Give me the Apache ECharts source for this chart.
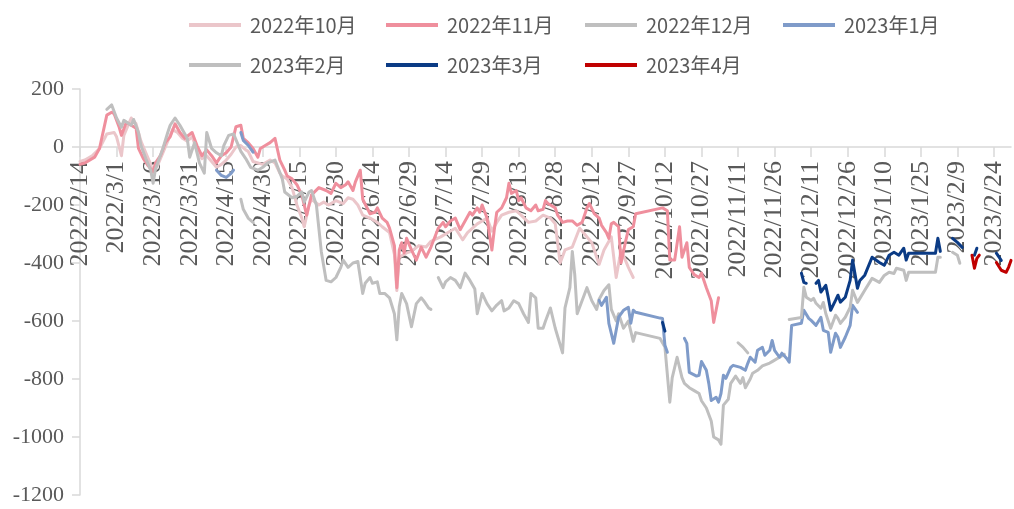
<!DOCTYPE html>
<html>
<head>
<meta charset="utf-8">
<script src="https://cdn.jsdelivr.net/npm/echarts@6/dist/echarts.min.js"></script>
<style>
  html, body { margin: 0; padding: 0; background: #fff; }
  #chart { width: 1014px; height: 509px; }
</style>
</head>
<body>
<div id="chart"></div>
<script>
// 日历日 x 轴: 2022/2/14 ~ 2023/3/3, 每 15 天一个标签
const START = Date.UTC(2022, 1, 14);
const DAYS = 383;
const cats = [];
for (let i = 0; i < DAYS; i++) {
  const d = new Date(START + i * 86400000);
  cats.push(d.getUTCFullYear() + '/' + (d.getUTCMonth() + 1) + '/' + d.getUTCDate());
}

const yTicks = { min: -1200, max: 200, step: 200 };

// null = 断线
const oct22 = [
  ['2022/2/14', -50], ['2022/2/16', -45], ['2022/2/19', -30], ['2022/2/22', -5], ['2022/2/25', 45],
  ['2022/2/28', 50], ['2022/3/1', 35], ['2022/3/3', -30], ['2022/3/4', 40], ['2022/3/7', 100],
  ['2022/3/9', 80], ['2022/3/11', 20], ['2022/3/13', -20], ['2022/3/15', -60], ['2022/3/16', -90],
  ['2022/3/18', -60], ['2022/3/20', -20], ['2022/3/22', 20], ['2022/3/24', 60], ['2022/3/26', 50],
  ['2022/3/28', 30], ['2022/3/30', 20], ['2022/4/1', 35], ['2022/4/3', -10], ['2022/4/5', -40],
  ['2022/4/7', -30], ['2022/4/9', -50], ['2022/4/11', -70], ['2022/4/13', -60], ['2022/4/15', -45],
  ['2022/4/17', -25], ['2022/4/19', 0], ['2022/4/21', 5], ['2022/4/23', -10], ['2022/4/24', -15],
  ['2022/4/26', -50], ['2022/4/30', -60], ['2022/5/3', -45], ['2022/5/5', -55], ['2022/5/7', -90],
  ['2022/5/8', -100], ['2022/5/10', -110], ['2022/5/12', -140], ['2022/5/14', -200], ['2022/5/16', -245],
  ['2022/5/17', -275], ['2022/5/19', -200], ['2022/5/20', -180], ['2022/5/23', -200], ['2022/5/25', -190],
  ['2022/5/27', -200], ['2022/5/30', -185], ['2022/6/2', -195], ['2022/6/4', -175], ['2022/6/6', -180],
  ['2022/6/8', -200], ['2022/6/10', -235], ['2022/6/13', -245], ['2022/6/16', -260], ['2022/6/18', -275],
  ['2022/6/21', -295], ['2022/6/23', -370], ['2022/6/24', -495], ['2022/6/25', -380], ['2022/6/28', -365],
  ['2022/6/30', -360], ['2022/7/3', -340], ['2022/7/6', -345], ['2022/7/8', -325], ['2022/7/12', -310],
  ['2022/7/15', -295], ['2022/7/18', -280], ['2022/7/21', -320], ['2022/7/23', -295], ['2022/7/27', -265],
  ['2022/7/29', -255], ['2022/7/31', -245], ['2022/8/2', -290], ['2022/8/4', -260], ['2022/8/6', -235],
  ['2022/8/9', -225], ['2022/8/12', -220], ['2022/8/14', -235], ['2022/8/17', -260], ['2022/8/20', -255],
  ['2022/8/23', -235], ['2022/8/26', -245], ['2022/8/28', -265], ['2022/8/30', -400], ['2022/9/1', -355],
  ['2022/9/4', -345], ['2022/9/7', -280], ['2022/9/9', -300], ['2022/9/12', -330], ['2022/9/15', -405],
  ['2022/9/17', -355], ['2022/9/20', -310], ['2022/9/22', -450], ['2022/9/24', -355], ['2022/9/27', -415],
  ['2022/9/29', -450]
];

const nov22 = [
  ['2022/2/14', -60], ['2022/2/16', -55], ['2022/2/20', -35], ['2022/2/22', -5], ['2022/2/25', 110],
  ['2022/2/27', 120], ['2022/2/28', 115], ['2022/3/2', 70], ['2022/3/3', 40], ['2022/3/5', 85],
  ['2022/3/7', 75], ['2022/3/9', 65], ['2022/3/10', -5], ['2022/3/12', -40], ['2022/3/14', -65],
  ['2022/3/16', -85], ['2022/3/17', -55], ['2022/3/19', -30], ['2022/3/21', 15], ['2022/3/23', 35],
  ['2022/3/25', 80], ['2022/3/27', 50], ['2022/3/29', 30], ['2022/4/1', 50], ['2022/4/3', 5],
  ['2022/4/5', -30], ['2022/4/7', -10], ['2022/4/9', -30], ['2022/4/11', -55], ['2022/4/13', -30],
  ['2022/4/15', -20], ['2022/4/17', 0], ['2022/4/19', 70], ['2022/4/21', 75], ['2022/4/22', 30],
  ['2022/4/24', 15], ['2022/4/26', -5], ['2022/4/28', -35], ['2022/4/29', -5], ['2022/5/1', 5],
  ['2022/5/3', 15], ['2022/5/5', 30], ['2022/5/7', -45], ['2022/5/9', -80], ['2022/5/10', -100],
  ['2022/5/12', -110], ['2022/5/14', -130], ['2022/5/16', -165], ['2022/5/18', -235], ['2022/5/19', -200],
  ['2022/5/20', -165], ['2022/5/23', -140], ['2022/5/26', -150], ['2022/5/28', -160], ['2022/5/30', -125],
  ['2022/6/1', -140], ['2022/6/3', -130], ['2022/6/4', -120], ['2022/6/6', -150], ['2022/6/7', -120],
  ['2022/6/9', -80], ['2022/6/10', -180], ['2022/6/13', -230], ['2022/6/15', -225], ['2022/6/16', -210],
  ['2022/6/18', -245], ['2022/6/20', -260], ['2022/6/21', -280], ['2022/6/23', -340], ['2022/6/24', -485],
  ['2022/6/25', -355], ['2022/6/26', -330], ['2022/6/27', -365], ['2022/6/28', -315], ['2022/6/30', -355],
  ['2022/7/2', -390], ['2022/7/4', -345], ['2022/7/6', -380], ['2022/7/8', -345], ['2022/7/11', -280],
  ['2022/7/13', -260], ['2022/7/14', -275], ['2022/7/16', -255], ['2022/7/18', -245], ['2022/7/20', -285],
  ['2022/7/22', -255], ['2022/7/24', -225], ['2022/7/25', -235], ['2022/7/27', -210], ['2022/7/28', -225],
  ['2022/7/29', -200], ['2022/7/31', -245], ['2022/8/2', -355], ['2022/8/3', -285], ['2022/8/4', -225],
  ['2022/8/6', -210], ['2022/8/8', -175], ['2022/8/9', -125], ['2022/8/10', -160], ['2022/8/12', -150],
  ['2022/8/13', -185], ['2022/8/14', -175], ['2022/8/16', -210], ['2022/8/18', -220], ['2022/8/20', -200],
  ['2022/8/21', -220], ['2022/8/23', -215], ['2022/8/24', -185], ['2022/8/25', -195], ['2022/8/28', -210],
  ['2022/8/29', -235], ['2022/8/31', -260], ['2022/9/2', -255], ['2022/9/4', -255], ['2022/9/6', -270],
  ['2022/9/8', -260], ['2022/9/10', -210], ['2022/9/11', -195], ['2022/9/13', -230], ['2022/9/15', -245],
  ['2022/9/16', -270], ['2022/9/18', -295], ['2022/9/19', -315], ['2022/9/20', -265], ['2022/9/21', -260],
  ['2022/9/23', -275], ['2022/9/24', -400], ['2022/9/26', -320], ['2022/9/27', -285], ['2022/9/29', -275],
  ['2022/9/30', -230], ['2022/10/11', -210], ['2022/10/13', -220], ['2022/10/14', -390], ['2022/10/16', -390],
  ['2022/10/18', -275], ['2022/10/19', -380], ['2022/10/21', -330], ['2022/10/22', -415], ['2022/10/24', -440],
  ['2022/10/26', -450], ['2022/10/27', -435], ['2022/10/29', -485], ['2022/10/31', -530], ['2022/11/1', -605],
  ['2022/11/3', -520]
];

const dec22 = [
  ['2022/2/25', 130], ['2022/2/27', 145], ['2022/3/1', 100], ['2022/3/3', 68], ['2022/3/4', 92],
  ['2022/3/7', 75], ['2022/3/8', 95], ['2022/3/10', 50], ['2022/3/11', 5], ['2022/3/13', -40],
  ['2022/3/15', -80], ['2022/3/16', -125], ['2022/3/17', -75], ['2022/3/20', -5], ['2022/3/22', 50],
  ['2022/3/23', 75], ['2022/3/25', 100], ['2022/3/27', 75], ['2022/3/30', 30], ['2022/3/31', -35],
  ['2022/4/2', 15], ['2022/4/4', -55], ['2022/4/6', -90], ['2022/4/7', 50], ['2022/4/9', -5],
  ['2022/4/11', -20], ['2022/4/13', -30], ['2022/4/14', 5], ['2022/4/16', 40], ['2022/4/18', 45],
  ['2022/4/21', -15], ['2022/4/23', -40], ['2022/4/25', -70], ['2022/4/28', -80], ['2022/4/30', -70],
  ['2022/5/2', -55], ['2022/5/5', -45], ['2022/5/8', -110], ['2022/5/9', -155], ['2022/5/12', -175],
  ['2022/5/14', -170], ['2022/5/16', -155], ['2022/5/17', -190], ['2022/5/19', -155], ['2022/5/20', -150],
  ['2022/5/22', -200], ['2022/5/24', -360], ['2022/5/26', -460], ['2022/5/28', -465], ['2022/5/30', -450],
  ['2022/6/1', -415], ['2022/6/2', -390], ['2022/6/4', -415], ['2022/6/6', -400], ['2022/6/8', -395],
  ['2022/6/10', -505], ['2022/6/11', -470], ['2022/6/13', -450], ['2022/6/14', -470], ['2022/6/16', -465],
  ['2022/6/17', -505], ['2022/6/19', -505], ['2022/6/21', -520], ['2022/6/23', -575], ['2022/6/24', -665],
  ['2022/6/25', -550], ['2022/6/26', -505], ['2022/6/28', -540], ['2022/6/30', -620], ['2022/7/2', -540],
  ['2022/7/4', -520], ['2022/7/5', -530], ['2022/7/7', -555], ['2022/7/8', -560], null,
  ['2022/7/11', -450], ['2022/7/13', -485], ['2022/7/14', -465], ['2022/7/16', -450], ['2022/7/18', -460],
  ['2022/7/20', -485], ['2022/7/22', -435], ['2022/7/24', -460], ['2022/7/26', -490], ['2022/7/27', -575],
  ['2022/7/29', -505], ['2022/7/31', -540], ['2022/8/2', -565], ['2022/8/4', -545], ['2022/8/6', -530],
  ['2022/8/7', -565], ['2022/8/9', -555], ['2022/8/11', -530], ['2022/8/13', -540], ['2022/8/15', -575],
  ['2022/8/17', -605], ['2022/8/18', -505], ['2022/8/20', -520], ['2022/8/21', -625], ['2022/8/23', -625],
  ['2022/8/24', -600], ['2022/8/26', -555], ['2022/8/28', -625], ['2022/8/31', -710], ['2022/9/1', -555],
  ['2022/9/3', -485], ['2022/9/4', -360], ['2022/9/5', -440], ['2022/9/6', -575], ['2022/9/8', -530],
  ['2022/9/10', -485], ['2022/9/12', -530], ['2022/9/14', -560], ['2022/9/15', -525], ['2022/9/17', -495],
  ['2022/9/19', -475], ['2022/9/20', -560], ['2022/9/22', -600], ['2022/9/23', -575], ['2022/9/25', -625],
  ['2022/9/27', -600], ['2022/9/29', -670], ['2022/9/30', -640], ['2022/10/10', -660], ['2022/10/12', -690],
  ['2022/10/14', -880], ['2022/10/15', -795], ['2022/10/17', -725], ['2022/10/19', -795], ['2022/10/20', -815],
  ['2022/10/22', -830], ['2022/10/24', -840], ['2022/10/26', -850], ['2022/10/27', -875], ['2022/10/29', -900],
  ['2022/10/31', -945], ['2022/11/1', -1000], ['2022/11/3', -1010], ['2022/11/4', -1025], ['2022/11/5', -890],
  ['2022/11/7', -870], ['2022/11/8', -815], ['2022/11/10', -790], ['2022/11/12', -815], ['2022/11/13', -795],
  ['2022/11/14', -830], ['2022/11/16', -800], ['2022/11/17', -780], ['2022/11/19', -770], ['2022/11/21', -755],
  ['2022/11/24', -745], ['2022/11/25', -740], ['2022/11/28', -725], ['2022/11/30', -715]
];

const jan23 = [
  ['2022/4/11', -80], ['2022/4/13', -98], ['2022/4/15', -105], ['2022/4/17', -91], ['2022/4/18', -80], null,
  ['2022/4/21', 50], ['2022/4/22', 23], ['2022/4/24', 6], ['2022/4/26', -18], null,
  ['2022/9/15', -529], ['2022/9/16', -546], ['2022/9/18', -518], ['2022/9/19', -608], ['2022/9/21', -677],
  ['2022/9/23', -587], ['2022/9/25', -563], ['2022/9/27', -553], ['2022/9/28', -608], ['2022/9/29', -563],
  ['2022/9/30', -570], ['2022/10/10', -590], ['2022/10/11', -591], ['2022/10/12', -684], ['2022/10/13', -708], null,
  ['2022/10/20', -660], ['2022/10/21', -677], ['2022/10/22', -777], ['2022/10/25', -790], ['2022/10/26', -787],
  ['2022/10/27', -740], ['2022/10/29', -770], ['2022/10/30', -815], ['2022/10/31', -874], ['2022/11/2', -863],
  ['2022/11/3', -880], ['2022/11/4', -850], ['2022/11/5', -787], ['2022/11/6', -798], ['2022/11/8', -760],
  ['2022/11/9', -753], ['2022/11/12', -760], ['2022/11/14', -770], ['2022/11/15', -746], ['2022/11/16', -725],
  ['2022/11/18', -742], ['2022/11/19', -701], ['2022/11/21', -691], ['2022/11/22', -718], ['2022/11/24', -701],
  ['2022/11/25', -667], ['2022/11/26', -701], ['2022/11/28', -725], ['2022/11/29', -711], ['2022/12/1', -729],
  ['2022/12/2', -742], ['2022/12/3', -615], ['2022/12/7', -608], ['2022/12/8', -563], ['2022/12/10', -591],
  ['2022/12/11', -598], ['2022/12/13', -615], ['2022/12/15', -587], ['2022/12/16', -632], ['2022/12/18', -639],
  ['2022/12/19', -708], ['2022/12/21', -642], ['2022/12/22', -656], ['2022/12/23', -691], ['2022/12/25', -656],
  ['2022/12/27', -615], ['2022/12/28', -546], ['2022/12/30', -570]
];

const feb23 = [
  ['2022/4/21', -180], ['2022/4/22', -215], ['2022/4/24', -245], ['2022/4/26', -260], null,
  ['2022/11/11', -675], ['2022/11/13', -690], ['2022/11/15', -710], null,
  ['2022/12/2', -595], ['2022/12/7', -588], ['2022/12/8', -484], ['2022/12/9', -518], ['2022/12/11', -529],
  ['2022/12/12', -522], ['2022/12/13', -539], ['2022/12/15', -556], ['2022/12/16', -536], ['2022/12/17', -574],
  ['2022/12/19', -625], ['2022/12/21', -580], ['2022/12/22', -591], ['2022/12/23', -608], ['2022/12/25', -587],
  ['2022/12/27', -553], ['2022/12/28', -494], ['2022/12/30', -536], ['2022/12/31', -522], ['2023/1/2', -494],
  ['2023/1/5', -453], ['2023/1/8', -467], ['2023/1/10', -443], ['2023/1/12', -432], ['2023/1/14', -436],
  ['2023/1/15', -418], ['2023/1/18', -425], ['2023/1/19', -460], ['2023/1/20', -432], ['2023/1/31', -432],
  ['2023/2/1', -380], ['2023/2/2', -380], null,
  ['2023/2/7', -363], ['2023/2/9', -373], ['2023/2/10', -401]
];

const mar23 = [
  ['2022/10/11', -605], ['2022/10/12', -635], null,
  ['2022/12/7', -435], ['2022/12/8', -467], ['2022/12/9', -470], null,
  ['2022/12/13', -470], ['2022/12/14', -460], ['2022/12/15', -500], ['2022/12/17', -477], ['2022/12/18', -518],
  ['2022/12/19', -563], ['2022/12/21', -529], ['2022/12/22', -511], ['2022/12/23', -535], ['2022/12/25', -518],
  ['2022/12/27', -460], ['2022/12/28', -390], ['2022/12/30', -487], ['2022/12/31', -460], ['2023/1/2', -442],
  ['2023/1/5', -380], ['2023/1/8', -398], ['2023/1/10', -408], ['2023/1/12', -373], ['2023/1/14', -363],
  ['2023/1/16', -373], ['2023/1/18', -349], ['2023/1/19', -390], ['2023/1/20', -366], ['2023/1/31', -366],
  ['2023/2/1', -315], ['2023/2/2', -360], null,
  ['2023/2/7', -315], ['2023/2/9', -329], ['2023/2/11', -346], null,
  ['2023/2/16', -373], ['2023/2/17', -349], null,
  ['2023/2/25', -366], ['2023/2/27', -391]
];

const apr23 = [
  ['2023/2/15', -373], ['2023/2/16', -418], ['2023/2/17', -384], ['2023/2/18', -373], null,
  ['2023/2/25', -398], ['2023/2/27', -425], ['2023/3/1', -432], ['2023/3/2', -415], ['2023/3/3', -391]
];

const INK = '#595959';
const AXIS = '#d9d9d9';

function line(name, color, data) {
  return {
    name, type: 'line', color,
    data: data.map((p) => p || '-'),
    symbol: 'none', connectNulls: false, silent: true,
    lineStyle: { width: 3, color, cap: 'round', join: 'round' },
  };
}

// 图例按 Excel 的网格排: 每列一个 legend
function legendCol(left, names) {
  return {
    left, top: 10, orient: 'vertical', itemGap: 20,
    itemWidth: 52, itemHeight: 4, icon: 'rect',
    data: names, selectedMode: false,
    textStyle: { fontFamily: 'Noto Sans CJK SC', fontSize: 20, lineHeight: 20, color: INK, padding: [0, 0, 0, 4] },
  };
}

const GRID = { left: 80, right: 3, top: 89, bottom: 14 };
const H = 509;
// x 轴放在 0 值处: onZero 在 v6 下标签不出, 直接按网格高度算 offset
const zeroOffset = -(H - GRID.top - GRID.bottom) * (0 - yTicks.min) / (yTicks.max - yTicks.min);

const chart = echarts.init(document.getElementById('chart'), null, { renderer: 'canvas' });
chart.setOption({
  animation: false,
  backgroundColor: '#fff',
  legend: [
    legendCol(184, ['2022年10月', '2023年2月']),
    legendCol(381, ['2022年11月', '2023年3月']),
    legendCol(580, ['2022年12月', '2023年4月']),
    legendCol(778, ['2023年1月']),
  ],
  grid: Object.assign({ containLabel: false, outerBoundsMode: 'none' }, GRID),
  xAxis: {
    type: 'category', data: cats, boundaryGap: false,
    position: 'bottom', offset: zeroOffset,
    axisLine: { onZero: false, lineStyle: { color: AXIS, width: 1.5 } },
    axisTick: { show: true, interval: 14, length: 10, lineStyle: { color: AXIS, width: 1.5 } },
    axisLabel: { show: true, interval: 14, rotate: 90, margin: 14, hideOverlap: false,
      padding: [8, 0, 0, 0],   // 竖排标签略往右偏, 跟原图一致
      fontFamily: 'Liberation Serif', fontSize: 26, color: INK },
    splitLine: { show: false },
  },
  yAxis: {
    type: 'value', min: yTicks.min, max: yTicks.max, interval: yTicks.step,
    axisLine: { show: true, lineStyle: { color: AXIS, width: 1.5 } },
    axisTick: { show: true, length: 8, lineStyle: { color: AXIS, width: 1.5 } },
    axisLabel: { margin: 16, fontFamily: 'Liberation Serif', fontSize: 22, color: INK,
      formatter: (v) => String(v) },
    splitLine: { show: false },
  },
  series: [
    line('2022年10月', '#ebc6ca', oct22),
    line('2022年11月', '#ef8f9d', nov22),
    line('2022年12月', '#bfbfbf', dec22),
    line('2023年1月', '#7f9bc9', jan23),
    line('2023年2月', '#bfbfbf', feb23),
    line('2023年3月', '#0b3b85', mar23),
    line('2023年4月', '#c00000', apr23),
  ],
});
</script>
</body>
</html>
